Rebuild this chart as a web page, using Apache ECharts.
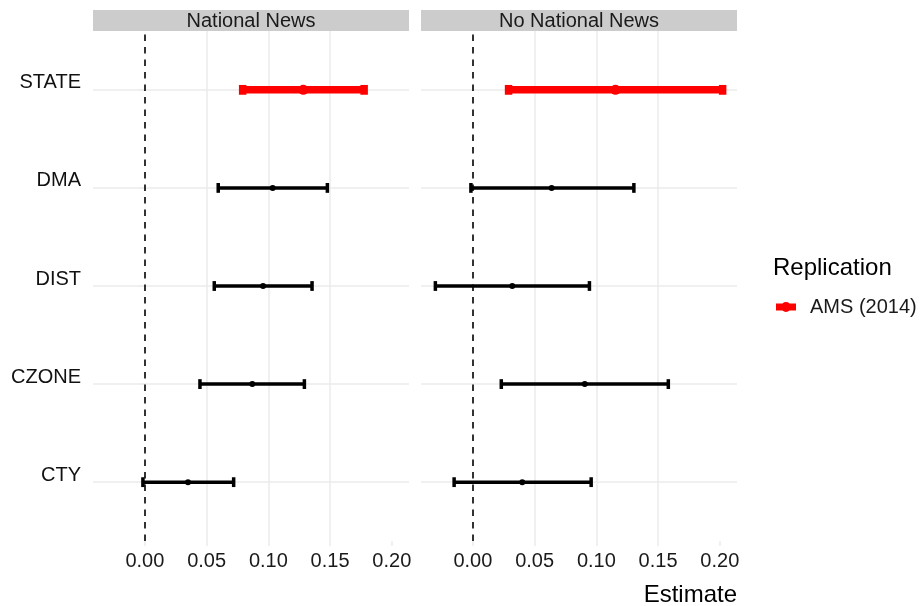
<!DOCTYPE html>
<html>
<head>
<meta charset="utf-8">
<script src="https://cdn.jsdelivr.net/npm/echarts@6/dist/echarts.min.js"></script>
<style>
  html, body { margin: 0; padding: 0; background: #fff; }
  #chart { width: 922px; height: 606px; }
</style>
</head>
<body>
<div id="chart"></div>
<script>
// Geographic levels, listed bottom to top
const categories = ['CTY', 'CZONE', 'DIST', 'DMA', 'STATE'];
// Which estimate replicates an earlier study
const replication = ['', '', '', '', 'AMS (2014)'];

// Panel: National News
const nationalEst  = [0.0349, 0.0870, 0.0957, 0.1035, 0.1283];
const nationalLow  = [-0.0016, 0.0446, 0.0562, 0.0594, 0.0792];
const nationalHigh = [0.0719, 0.1292, 0.1354, 0.1478, 0.1776];

// Panel: No National News
const noNationalEst  = [0.0400, 0.0906, 0.0319, 0.0638, 0.1155];
const noNationalLow  = [-0.0152, 0.0230, -0.0304, -0.0016, 0.0289];
const noNationalHigh = [0.0958, 0.1583, 0.0944, 0.1304, 0.2023];

const panelTitles = ['National News', 'No National News'];
const xTicks = [0, 0.05, 0.10, 0.15, 0.20];
const legendTitle = 'Replication';
const xTitle = 'Estimate';

const FONT = '"Liberation Sans", Arial, Helvetica, sans-serif';
const GRID_COLOR = '#EBEBEB';

// shared x scale with a 5% margin on both sides of the data range
const lo = Math.min(...nationalLow, ...noNationalLow);
const hi = Math.max(...nationalHigh, ...noNationalHigh);
const span = hi - lo;
const xMin = lo - 0.05 * span;
const xMax = hi + 0.05 * span;

// discrete y scale: positions 1..n with 0.6 padding at each end
const yPos = categories.map((c, i) => i + 1);
const yMin = 0.4, yMax = categories.length + 0.6;

function buildData(low, high, est, wantRep) {
  const out = [];
  categories.forEach((c, i) => {
    if ((replication[i] !== '') === wantRep) out.push([low[i], high[i], est[i], yPos[i]]);
  });
  return out;
}

function errorbar(color, lineWidth, radius) {
  return function (params, api) {
    const y = api.value(3);
    const pLo = api.coord([api.value(0), y]);
    const pHi = api.coord([api.value(1), y]);
    const pEst = api.coord([api.value(2), y]);
    const half = api.size([0, 0.05])[1];
    const st = { stroke: color, lineWidth: lineWidth, lineCap: 'butt' };
    return {
      type: 'group',
      children: [
        { type: 'line', shape: { x1: pLo[0], y1: pLo[1], x2: pHi[0], y2: pHi[1] }, style: st },
        { type: 'line', shape: { x1: pLo[0], y1: pLo[1] - half, x2: pLo[0], y2: pLo[1] + half }, style: st },
        { type: 'line', shape: { x1: pHi[0], y1: pHi[1] - half, x2: pHi[0], y2: pHi[1] + half }, style: st },
        { type: 'circle', shape: { cx: pEst[0], cy: pEst[1], r: radius }, style: { fill: color } }
      ]
    };
  };
}

function xAxisFor(gridIndex) {
  return {
    type: 'value', gridIndex: gridIndex, min: xMin, max: xMax,
    axisLine: { show: false },
    axisTick: { show: true, length: 5, customValues: xTicks, lineStyle: { color: GRID_COLOR, width: 1.5 } },
    axisLabel: {
      customValues: xTicks, margin: 10, fontFamily: FONT, fontSize: 20, color: '#1a1a1a',
      formatter: v => v.toFixed(2)
    },
    splitLine: { show: true, showMinLine: false, showMaxLine: false, lineStyle: { color: GRID_COLOR, width: 1.5 } }
  };
}

function yAxisFor(gridIndex, withLabels) {
  return {
    type: 'value', gridIndex: gridIndex, min: yMin, max: yMax,
    axisLine: { show: false },
    axisTick: { show: withLabels, length: 6, customValues: yPos, lineStyle: { color: GRID_COLOR, width: 1.5 } },
    axisLabel: {
      show: withLabels, customValues: yPos, margin: 12,
      fontFamily: FONT, fontSize: 20, color: '#111',
      verticalAlign: 'bottom', lineHeight: 14,
      formatter: v => categories[Math.round(v) - 1] || ''
    },
    splitLine: { show: false }
  };
}

const zeroLine = {
  silent: true, z: 2, symbol: ['none', 'none'], label: { show: false },
  lineStyle: { color: '#000', type: [6.5, 6], width: 1.6 },
  data: [{ xAxis: 0 }]
};

// horizontal grid lines, one per category
const categoryLines = {
  silent: true, z: 0, symbol: ['none', 'none'], label: { show: false },
  lineStyle: { color: GRID_COLOR, type: 'solid', width: 1.5 },
  data: yPos.map(v => ({ yAxis: v }))
};

const panels = [
  { low: nationalLow, high: nationalHigh, est: nationalEst },
  { low: noNationalLow, high: noNationalHigh, est: noNationalEst }
];

const series = [];
panels.forEach((p, gi) => {
  series.push({
    type: 'line', name: 'grid', xAxisIndex: gi, yAxisIndex: gi,
    data: [], silent: true, markLine: categoryLines, z: 0
  });
  series.push({
    type: 'custom', name: 'estimate', xAxisIndex: gi, yAxisIndex: gi,
    encode: { x: [0, 1, 2], y: 3 },
    itemStyle: { color: '#000' },
    renderItem: errorbar('#000', 3.5, 3),
    data: buildData(p.low, p.high, p.est, false),
    markLine: zeroLine, z: 3
  });
  series.push({
    type: 'custom', name: 'AMS (2014)', xAxisIndex: gi, yAxisIndex: gi,
    encode: { x: [0, 1, 2], y: 3 },
    itemStyle: { color: '#FF0000' },
    renderItem: errorbar('#FF0000', 7.5, 5),
    data: buildData(p.low, p.high, p.est, true), z: 4
  });
});

const grids = [
  { left: 93, top: 31, width: 316, height: 510 },
  { left: 421, top: 31, width: 316, height: 510 }
];

const graphics = [];
grids.forEach((g, i) => {
  graphics.push({
    type: 'rect', left: g.left, top: 10, shape: { width: g.width, height: 21 },
    style: { fill: '#CCCCCC' }, silent: true
  });
  graphics.push({
    type: 'text', x: g.left + g.width / 2, y: 21,
    style: { text: panelTitles[i], font: '20px ' + FONT, fill: '#1a1a1a', align: 'center', verticalAlign: 'middle' }
  });
});
graphics.push({
  type: 'text', x: 737, y: 595,
  style: { text: xTitle, font: '24px ' + FONT, fill: '#000', align: 'right', verticalAlign: 'middle' }
});
graphics.push({
  type: 'text', x: 773, y: 268,
  style: { text: legendTitle, font: '24px ' + FONT, fill: '#000', align: 'left', verticalAlign: 'middle' }
});

const chart = echarts.init(document.getElementById('chart'), null, { renderer: 'canvas' });
chart.setOption({
  animation: false,
  backgroundColor: '#fff',
  grid: grids,
  xAxis: [xAxisFor(0), xAxisFor(1)],
  yAxis: [yAxisFor(0, true), yAxisFor(1, false)],
  legend: {
    data: ['AMS (2014)'], left: 771, top: 292, orient: 'vertical',
    itemWidth: 20, itemHeight: 10,
    icon: 'path://M0,1.5H20V8.5H0Z M5,5A5,5 0 1 1 15,5A5,5 0 1 1 5,5Z',
    textStyle: { fontFamily: FONT, fontSize: 20, color: '#1a1a1a', padding: [0, 0, 0, 9] },
    selectedMode: false
  },
  graphic: graphics,
  series: series
});
</script>
</body>
</html>
